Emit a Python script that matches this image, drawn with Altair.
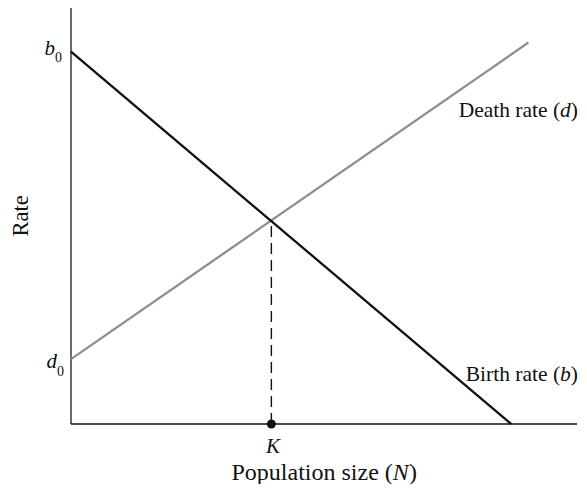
import altair as alt
import pandas as pd

# ---- data ----
K = 39.6          # carrying capacity on the N axis
K_RATE = 48.8     # rate at which b = d
birth_x = [0.0, 87.0]
birth_y = [89.5, 0.0]
death_x = [0.0, 90.4]
death_y = [15.6, 91.7]
x_axis_x = [0.0, 100.0]
x_axis_y = [0.0, 0.0]
y_axis_x = [0.0, 0.0]
y_axis_y = [0.0, 100.5]

# label pieces: regular, right aligned
reg_right_text = ["Death rate (", ")", "Birth rate (", ")", "Population size (", ")"]
reg_right_x = [96.66, 100.2, 96.66, 100.2, 63.6, 68.4]
reg_right_y = [73.8, 73.8, 10.3, 10.3, -13.4, -13.4]
reg_right_size = [21.5, 21.5, 21.5, 21.5, 24, 24]
# italic, left aligned
ital_left_text = ["d", "b", "N"]
ital_left_x = [96.66, 96.66, 63.6]
ital_left_y = [73.8, 10.3, -13.4]
ital_left_size = [21.5, 21.5, 24]
# axis symbols b0, d0
sym_text = ["b", "d"]
sym_x = [-3.16, -2.77]
sym_y = [88.7, 13.5]
sub_text = ["0", "0"]
sub_x = [-3.16, -2.77]
sub_y = [87.0, 11.5]
k_text = ["K"]
k_x = [39.9]
k_y = [-7.0]
rate_text = ["Rate"]
rate_x = [-8.5]
rate_y = [50.0]

FONT = "Liberation Serif"
xs = alt.Scale(domain=[0, 100], nice=False, zero=False)
ys = alt.Scale(domain=[0, 100], nice=False, zero=False)


def seg(xv, yv):
    return pd.DataFrame({"x": [xv[0]], "y": [yv[0]], "x2": [xv[1]], "y2": [yv[1]]})


def rule_layer(df, **kw):
    return alt.Chart(df).mark_rule(**kw).encode(
        x=alt.X("x:Q", scale=xs, axis=None),
        y=alt.Y("y:Q", scale=ys, axis=None),
        x2="x2:Q",
        y2="y2:Q",
    )


xaxis = rule_layer(seg(x_axis_x, x_axis_y), color="#111111", strokeWidth=1.6)
yaxis = rule_layer(seg(y_axis_x, y_axis_y), color="#444444", strokeWidth=1.6)
birth = rule_layer(seg(birth_x, birth_y), color="#111111", strokeWidth=2.3)
death = rule_layer(seg(death_x, death_y), color="#8e8e8e", strokeWidth=2.3)
dashed = rule_layer(seg([K, K], [0.0, K_RATE]), color="#111111", strokeWidth=1.4,
                    strokeDash=[11, 6])
point = alt.Chart(pd.DataFrame({"x": [K], "y": [0.0]})).mark_circle(
    color="#111111", opacity=1, size=80
).encode(x=alt.X("x:Q", scale=xs, axis=None), y=alt.Y("y:Q", scale=ys, axis=None))


def text_layer(texts, xv, yv, sizes, **kw):
    df = pd.DataFrame({"t": texts, "x": xv, "y": yv, "s": sizes})
    return alt.Chart(df).mark_text(font=FONT, color="#111111", baseline="alphabetic", **kw).encode(
        x=alt.X("x:Q", scale=xs, axis=None),
        y=alt.Y("y:Q", scale=ys, axis=None),
        text="t:N",
        size=alt.Size("s:Q", scale=None, legend=None),
    )


t_reg = text_layer(reg_right_text, reg_right_x, reg_right_y, reg_right_size, align="right")
t_ital = text_layer(ital_left_text, ital_left_x, ital_left_y, ital_left_size,
                    align="left", fontStyle="italic")
t_sym = text_layer(sym_text, sym_x, sym_y, [21, 21], align="right", fontStyle="italic")
t_sub = text_layer(sub_text, sub_x, sub_y, [14, 14], align="left")
t_k = text_layer(k_text, k_x, k_y, [21], align="center", fontStyle="italic")
t_rate = text_layer(rate_text, rate_x, rate_y, [22.5], align="center", angle=270)

chart = alt.layer(
    yaxis, xaxis, death, birth, dashed, point,
    t_reg, t_ital, t_sym, t_sub, t_k, t_rate,
).properties(
    width=506,
    height=416,
    autosize=alt.AutoSizeParams(type="none"),
    padding={"left": 63, "top": 0, "right": 2, "bottom": 60},
).configure_view(stroke=None)

chart.save("out.html", embed_options={"renderer": "svg", "actions": False})
